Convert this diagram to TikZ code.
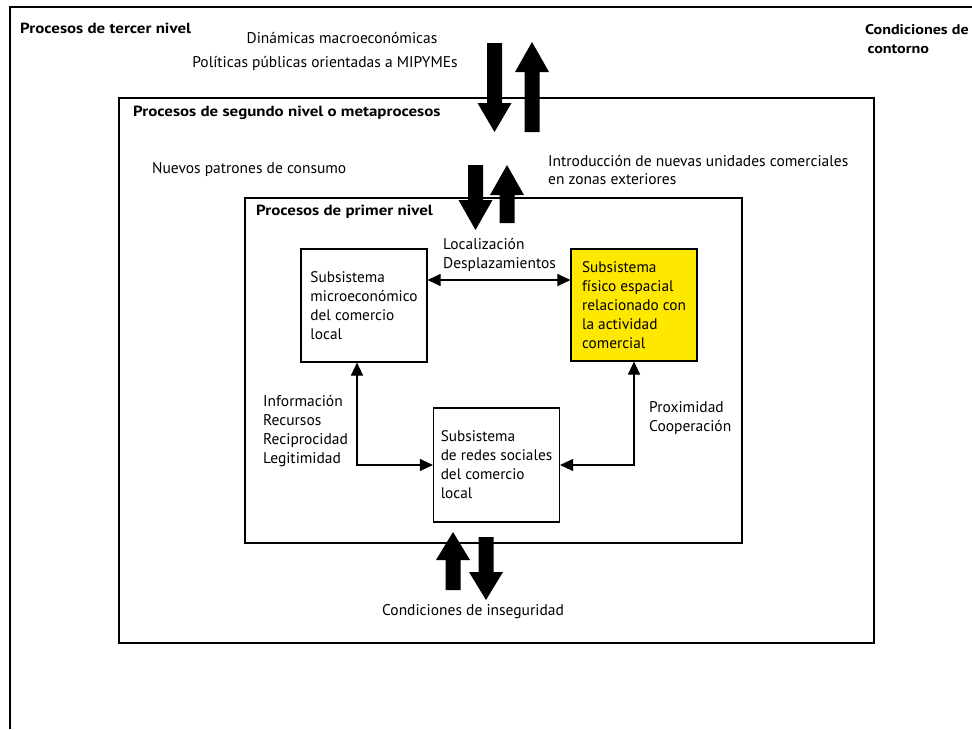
\documentclass[tikz,border=0pt]{standalone}
\usepackage{fontspec}
\setmainfont{PT Sans}
\newfontfamily\titlefont[FakeStretch=1.15]{PT Sans}
\definecolor{mYellow}{RGB}{255,232,0}
\usepackage{tikz}
\usetikzlibrary{arrows.meta,positioning,calc}

% block arrow: centre x, tail y, head base y, tip y
\newcommand{\bigarrow}[4]{%
  \fill (#1-7.5,#2) -- (#1+7.5,#2) -- (#1+7.5,#3) -- (#1+17,#3) -- (#1,#4)
        -- (#1-17,#3) -- (#1-7.5,#3) -- cycle;}

\begin{document}
\begin{tikzpicture}[x=1pt, y=-1pt,
    lbl/.style={font=\fontsize{15.5}{19}\selectfont, inner sep=0pt},
    title/.style={font=\fontsize{14.7}{19}\selectfont\titlefont\bfseries, inner sep=0pt},
    subsys/.style={draw, line width=1.1pt, font=\fontsize{15.3}{19}\selectfont,
      align=left, minimum width=126pt, minimum height=113pt, inner sep=0pt},
    conn/.style={line width=1.1pt, {Triangle[length=13pt,width=12pt]}-{Triangle[length=13pt,width=12pt]}}]
    \useasboundingbox (0,0) rectangle (972,729);

    % third level: open frame
    \draw[line width=1.1pt] (10,729) -- (10,7) -- (972,7);
    \node[title, anchor=west] (tercer) at (20,28) {Procesos de tercer nivel};
    \node[title, anchor=west, align=left, font=\fontsize{14}{19}\selectfont\titlefont\bfseries]
      (contorno) at (865,39.5) {Condiciones de\\\,contorno};
    \node[lbl] (dinamicas) at (342,38) {Dinámicas macroeconómicas};
    \node[lbl] (politicas) at (325,63) {Políticas públicas orientadas a MIPYMEs};

    % second level
    \draw[line width=1.1pt] (119,98) rectangle (874,643);
    \node[title, anchor=west] (segundo) at (133,113) {Procesos de segundo nivel o metaprocesos};
    \node[lbl, anchor=west] (patrones) at (152,170) {Nuevos patrones de consumo};
    \node[lbl, anchor=west, align=left, font=\fontsize{15.5}{18}\selectfont] (introduccion) at (548,170)
      {Introducción de nuevas unidades comerciales\\en zonas exteriores};
    \node[lbl] (inseguridad) at (473,612) {Condiciones de inseguridad};

    % first level
    \draw[line width=1.1pt] (245,198) rectangle (742,543);
    \node[title, anchor=west] (primer) at (256,212) {Procesos de primer nivel};

    % the three subsystems
    \node[subsys] (micro) at (364,305.5)
      {Subsistema\\microeconómico\\del comercio\\local};
    \node[subsys, fill=mYellow, minimum height=112pt] (fisico) at (634,305)
      {Subsistema\\físico espacial\\relacionado con\\la actividad\\comercial};
    \node[subsys, minimum height=114pt] (redes) at (496.5,465)
      {Subsistema\\de redes sociales\\del comercio\\local};

    % relations between subsystems
    \coordinate (hy) at (0,280);
    \coordinate (lv) at (357,465);
    \draw[conn] (micro.east |- hy) -- (fisico.west |- hy);
    \draw[conn] (micro.south -| lv) |- (redes.west);
    \draw[conn] (fisico.south) |- (redes.east);
    \node[lbl, anchor=west, align=left] (localizacion) at (443,254.5) {Localización\\Desplazamientos};
    \node[lbl, anchor=west, align=left] (informacion) at (263,431.5)
      {Información\\Recursos\\Reciprocidad\\Legitimidad};
    \node[lbl, anchor=west, align=left] (proximidad) at (649,418.5) {Proximidad\\Cooperación};

    % exchanges across levels
    \bigarrow{494.5}{43}{103}{132}
    \bigarrow{532}{132}{72}{42}
    \bigarrow{475.5}{165}{200}{230}
    \bigarrow{507}{223}{195}{165}
    \bigarrow{453}{590}{560}{532}
    \bigarrow{486}{537}{572}{600}
\end{tikzpicture}
\end{document}
